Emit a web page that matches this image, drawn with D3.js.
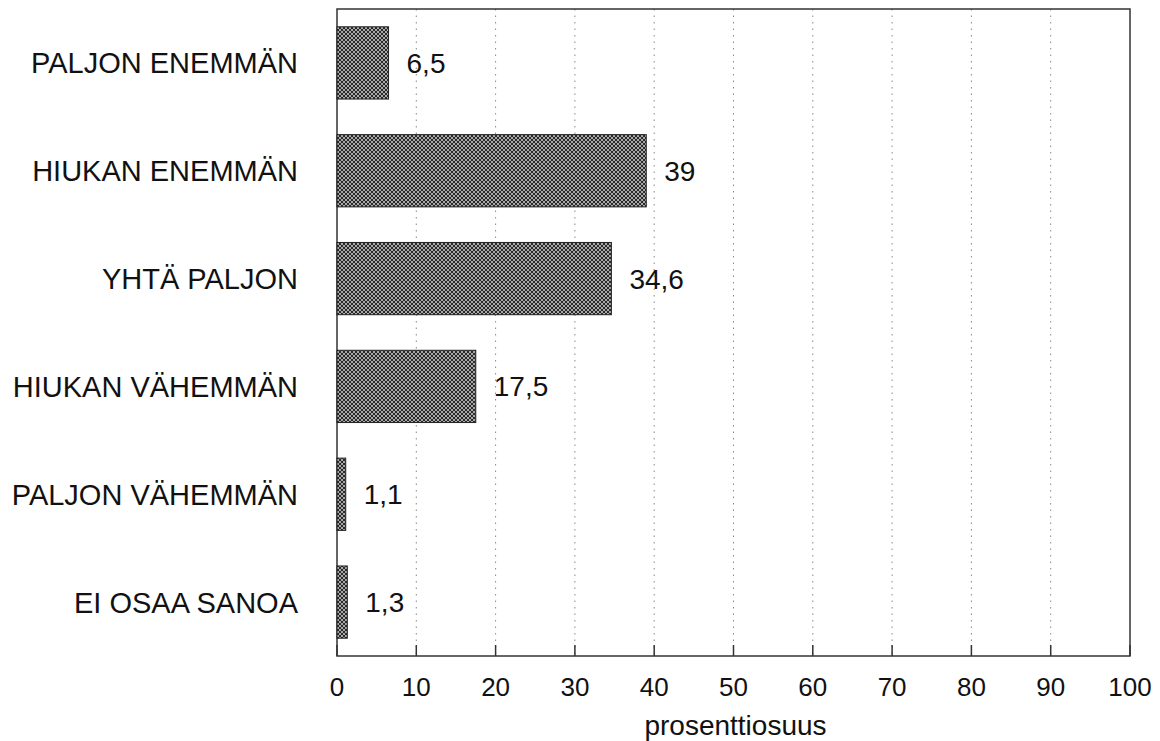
<!DOCTYPE html>
<html>
<head>
<meta charset="utf-8">
<script src="https://cdn.jsdelivr.net/npm/d3@7"></script>
<style>
  body { margin: 0; background: #fff; }
  text { font-family: "Liberation Sans", Arial, sans-serif; fill: #111; }
</style>
</head>
<body>
<svg id="chart"></svg>
<script>
const categories = ['PALJON ENEMMÄN', 'HIUKAN ENEMMÄN', 'YHTÄ PALJON', 'HIUKAN VÄHEMMÄN', 'PALJON VÄHEMMÄN', 'EI OSAA SANOA'];
const values = [6.5, 39, 34.6, 17.5, 1.1, 1.3];
const valueLabels = ['6,5', '39', '34,6', '17,5', '1,1', '1,3'];
const xTicks = [0, 10, 20, 30, 40, 50, 60, 70, 80, 90, 100];
const xTitle = 'prosenttiosuus';

const width = 1160, height = 741;
const margin = { top: 9, right: 30, bottom: 85, left: 337 };
const innerW = width - margin.left - margin.right;
const innerH = height - margin.top - margin.bottom;

const svg = d3.select('#chart').attr('width', width).attr('height', height);

// checker fill like the printed raster
const defs = svg.append('defs');
const pat = defs.append('pattern')
    .attr('id', 'checker')
    .attr('width', 4).attr('height', 4)
    .attr('patternUnits', 'userSpaceOnUse');
pat.append('rect').attr('width', 4).attr('height', 4).attr('fill', '#a8a8a8');
pat.append('rect').attr('width', 2).attr('height', 2).attr('fill', '#2a2a2a');
pat.append('rect').attr('x', 2).attr('y', 2).attr('width', 2).attr('height', 2).attr('fill', '#2a2a2a');

const chart = svg.append('g').attr('transform', `translate(${margin.left}, ${margin.top})`);

const xscale = d3.scaleLinear().domain([0, 100]).range([0, innerW]);
const yscale = d3.scaleBand().domain(categories).range([0, innerH]).paddingInner(0.33).paddingOuter(0.165);

// dotted grid lines
chart.append('g').selectAll('line')
    .data(xTicks.slice(1, -1)).enter()
    .append('line')
    .attr('x1', d => xscale(d)).attr('x2', d => xscale(d))
    .attr('y1', 0).attr('y2', innerH)
    .attr('stroke', '#888')
    .attr('stroke-width', 1)
    .attr('stroke-dasharray', '1.5,5');

// inward tick marks
chart.append('g').selectAll('line')
    .data(xTicks).enter()
    .append('line')
    .attr('x1', d => xscale(d)).attr('x2', d => xscale(d))
    .attr('y1', innerH).attr('y2', innerH - 11)
    .attr('stroke', '#333')
    .attr('stroke-width', 1.5);

// frame
chart.append('rect')
    .attr('width', innerW).attr('height', innerH)
    .attr('fill', 'none')
    .attr('stroke', '#333')
    .attr('stroke-width', 1.5);

// bars
chart.selectAll('rect.bar')
    .data(values).enter()
    .append('rect')
    .attr('class', 'bar')
    .attr('x', 0)
    .attr('y', (d, i) => yscale(categories[i]))
    .attr('width', d => xscale(d))
    .attr('height', yscale.bandwidth())
    .attr('fill', 'url(#checker)')
    .attr('stroke', '#222')
    .attr('stroke-width', 1);

// value labels
chart.selectAll('text.val')
    .data(values).enter()
    .append('text')
    .attr('class', 'val')
    .attr('x', d => xscale(d) + 18)
    .attr('y', (d, i) => yscale(categories[i]) + yscale.bandwidth() / 2)
    .attr('dy', '0.36em')
    .attr('font-size', '28px')
    .text((d, i) => valueLabels[i]);

// category labels
chart.selectAll('text.cat')
    .data(categories).enter()
    .append('text')
    .attr('class', 'cat')
    .attr('x', -39)
    .attr('y', d => yscale(d) + yscale.bandwidth() / 2)
    .attr('dy', '0.36em')
    .attr('text-anchor', 'end')
    .attr('font-size', '29px')
    .text(d => d);

// x tick labels
chart.selectAll('text.tick')
    .data(xTicks).enter()
    .append('text')
    .attr('class', 'tick')
    .attr('x', d => xscale(d))
    .attr('y', innerH + 40)
    .attr('text-anchor', 'middle')
    .attr('font-size', '26px')
    .text(d => d);

svg.append('text')
    .attr('x', margin.left + innerW / 2 + 2)
    .attr('y', height - 6)
    .attr('text-anchor', 'middle')
    .attr('font-size', '28px')
    .text(xTitle);
</script>
</body>
</html>
